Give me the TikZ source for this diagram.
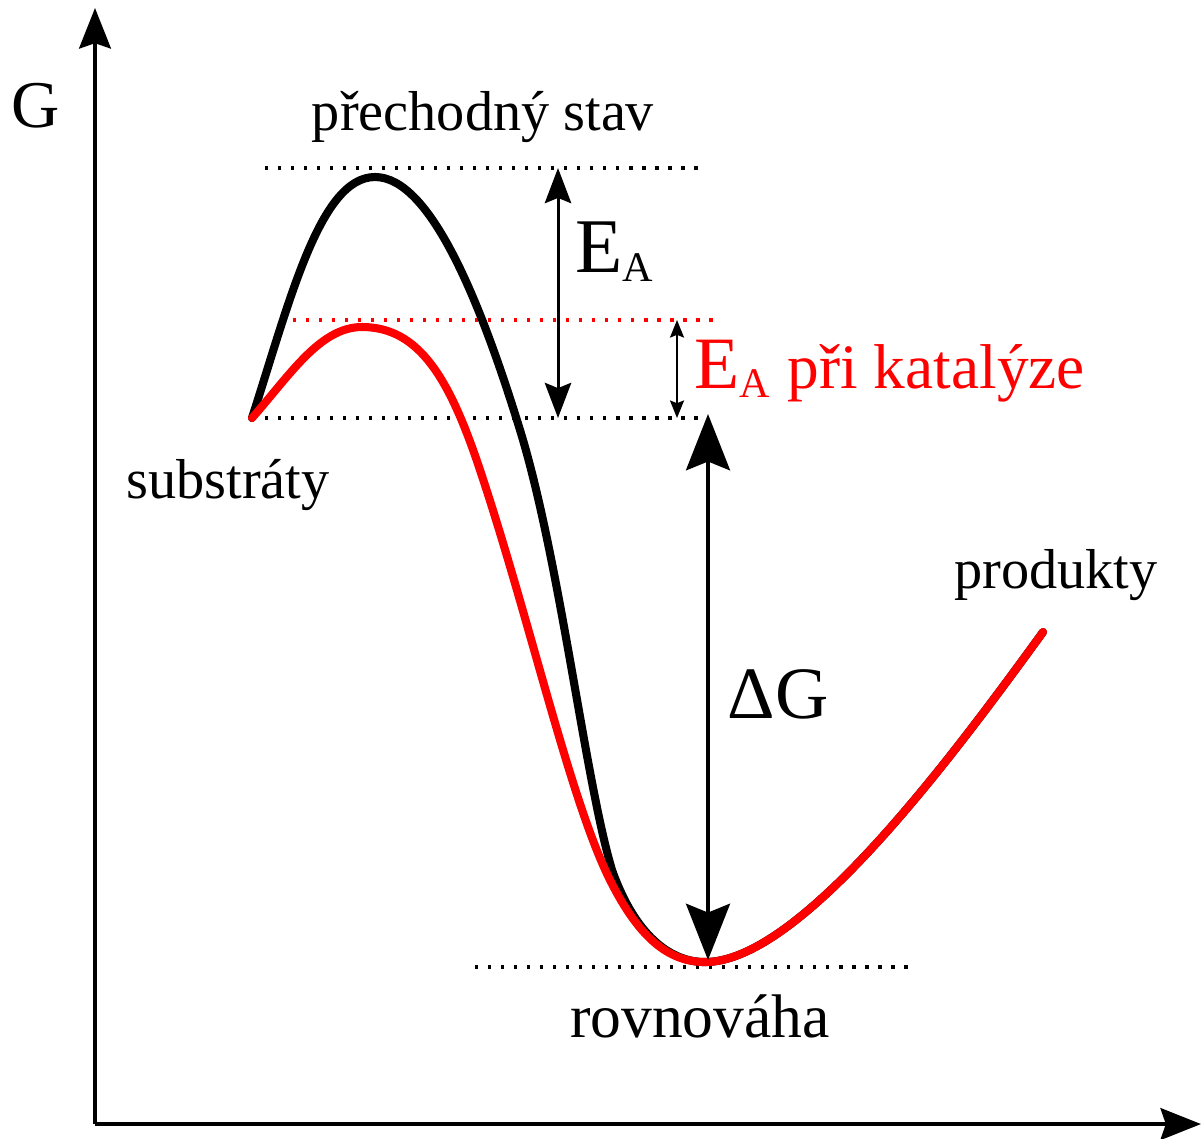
\documentclass[tikz,border=0pt]{standalone}
\usepackage{fontspec}
\setmainfont{Liberation Serif}
\usetikzlibrary{arrows.meta,positioning}

\newcommand\velkeE[1]{{\fontsize{#1}{#1}\selectfont E}\raisebox{-2.8pt}{\fontsize{12}{14}\selectfont A}}

\begin{document}
\begin{tikzpicture}[x=0.01cm, y=-0.01cm,
  osa/.style={line width=1.2pt, -{Stealth[length=11.5pt, width=9pt, inset=1.5pt]}},
  krivka/.style={line width=2.3pt, line cap=round},
  bodky/.style={line width=0.9pt, dash pattern=on 0.9pt off 2.8pt},
  sipkaEA/.style={line width=0.85pt, {Stealth[length=10pt, width=7.5pt, inset=1.5pt]}-{Stealth[length=10pt, width=7.5pt, inset=1.5pt]}},
  sipkakat/.style={line width=0.5pt, {Stealth[length=5pt, width=4pt, inset=0.8pt]}-{Stealth[length=5pt, width=4pt, inset=0.8pt]}},
  sipkaG/.style={line width=1.1pt, {Stealth[length=16pt, width=12.5pt, inset=2.5pt]}-{Stealth[length=16pt, width=12.5pt, inset=2.5pt]}},
  popis/.style={inner sep=0pt, font=\fontsize{16}{19}\selectfont},
  velky/.style={inner sep=0pt, font=\fontsize{21}{25}\selectfont}]
  \useasboundingbox (0,0) rectangle (1204,1138);

  % Osi
  \coordinate (O) at (95,1124);
  \coordinate (ytop) at (95,8);
  \coordinate (xend) at (1201,1124);
  \draw[osa] (O) -- (ytop);
  \draw[osa] (O) -- (xend);
  \node[velky, font=\fontsize{19}{23}\selectfont] (G) at (36,106) {G};

  % Hladiny
  \coordinate (ts1) at (265,168);   \coordinate (ts2) at (705,168);
  \coordinate (kat1) at (280,320);  \coordinate (kat2) at (720,320);
  \coordinate (sub1) at (252,418);  \coordinate (sub2) at (700,418);
  \coordinate (rov1) at (475,967);  \coordinate (rov2) at (915,967);
  \draw[bodky] (ts1) -- (ts2);
  \draw[bodky, red] (kat1) -- (kat2);
  \draw[bodky] (sub1) -- (sub2);
  \draw[bodky] (rov1) -- (rov2);

  % Krivka bez katalyzatora
  \draw[krivka] (sub1) .. controls (290,300) and (320,177) .. (375,177)
    .. controls (430,177) and (480,300) .. (520,430)
    .. controls (560,560) and (585,780) .. (612,870)
    .. controls (635,935) and (670,962) .. (705,962)
    .. controls (800,962) and (950,760) .. (1043,632);

  % Krivka s katalyzatorom
  \draw[krivka, red] (sub1) .. controls (290,375) and (320,327) .. (362,327)
    .. controls (420,327) and (450,380) .. (480,470)
    .. controls (530,620) and (570,800) .. (610,880)
    .. controls (640,940) and (670,962) .. (705,962)
    .. controls (800,962) and (950,760) .. (1043,632);

  % Sipky
  \coordinate (eaT) at (558,168);  \coordinate (eaB) at (558,418);
  \coordinate (ekT) at (677,320);  \coordinate (ekB) at (677,418);
  \coordinate (dgT) at (708,414);  \coordinate (dgB) at (708,960);
  \draw[sipkaEA] (eaT) -- (eaB);
  \draw[sipkakat] (ekT) -- (ekB);
  \draw[sipkaG] (dgT) -- (dgB);

  % Popisy
  \node[popis, anchor=base] (ts) at (483,130) {přechodný stav};
  \node[popis, anchor=base] (sub) at (228,498) {substráty};
  \node[popis, anchor=base] (prod) at (1056,588) {produkty};
  \node[popis, anchor=base, font=\fontsize{17.5}{21}\selectfont] (rov) at (700,1037) {rovnováha};
  \node[velky, anchor=base west] (EA) at (575,272) {\velkeE{22}};
  \node[velky, anchor=base west, red] (EAk) at (694,388)
    {\velkeE{21}\hspace{5pt}{\fontsize{18}{22}\selectfont při katalýze}};
  \node[velky, anchor=base west] (dG) at (727,718) {ΔG};
\end{tikzpicture}
\end{document}
